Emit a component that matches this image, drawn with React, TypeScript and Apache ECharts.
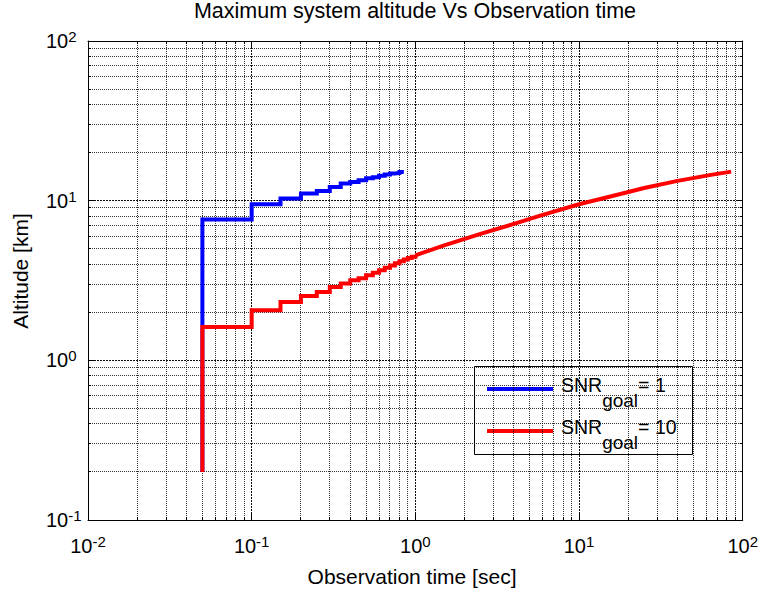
import React, { useEffect, useRef } from "react";
import * as echarts from "echarts";

// Observation-time samples (s) and the resulting maximum altitude (km)
const stepTimesSnr1 = [0.05, 0.1, 0.15, 0.2, 0.25, 0.3, 0.35, 0.4, 0.45, 0.5, 0.55, 0.6, 0.65, 0.7, 0.75, 0.8, 0.85];
const altitudeSnr1 = [7.62, 9.51, 10.3, 11.1, 11.5, 12.2, 12.8, 13.1, 13.4, 13.8, 14.0, 14.3, 14.6, 14.8, 14.9, 15.1, 15.2];

const stepTimesSnr10 = [0.05, 0.1, 0.15, 0.2, 0.25, 0.3, 0.35, 0.4, 0.45, 0.5, 0.55, 0.6, 0.65, 0.7, 0.75, 0.8, 0.85, 0.9, 0.95, 1.0];
const altitudeSnr10 = [1.62, 2.06, 2.32, 2.53, 2.68, 2.88, 3.03, 3.17, 3.27, 3.41, 3.53, 3.67, 3.8, 3.92, 4.05, 4.17, 4.28, 4.38, 4.46, 4.55];
// beyond 1 s the stair steps are finer than a pixel on the log axis
const tailTimesSnr10 = [1.0, 1.5, 2.5, 4, 6, 10, 16, 25, 40, 64, 85];
const tailAltitudeSnr10 = [4.55, 5.25, 6.2, 7.15, 8.15, 9.5, 10.7, 12.0, 13.3, 14.5, 15.2];

// both curves rise from this altitude at the first sample
const startAltitude = 0.2;

// axis ranges and grid decades
const X_MIN = 0.01;
const X_MAX = 100;
const Y_MIN = 0.1;
const Y_MAX = 100;
const xDecades = [0.01, 0.1, 1, 10];
const yDecades = [0.1, 1, 10];
const minorMultipliers = [2, 3, 4, 5, 6, 7, 8, 9];

const legendLabels = ["= 1", "= 10"];

const FONT = '"Liberation Sans", Arial, Helvetica, sans-serif';

const stairs = (times: number[], alts: number[]) => [
  [times[0], startAltitude],
  ...times.map((t, i) => [t, alts[i]]),
];

const gridValues = (decades: number[]) => {
  const out: number[][] = [];
  decades.forEach((d, k) => {
    if (k > 0) out.push([d, 1]);
    minorMultipliers.forEach((m) => out.push([d * m, 0]));
  });
  return out;
};

const crisp = (v: number) => Math.round(v - 0.5) + 0.5;

const tickLabel = (v: number) => {
  const e = Math.round(Math.log10(v));
  return `{b|10}{s|${e}}`;
};

const tickRich = {
  b: { fontSize: 20, fontFamily: FONT, color: "#000", lineHeight: 24, verticalAlign: "middle" },
  s: { fontSize: 15, fontFamily: FONT, color: "#000", lineHeight: 2, verticalAlign: "top" },
};

export default function App() {
  const ref = useRef<HTMLDivElement>(null);

  useEffect(() => {
    if (!ref.current) return;
    const chart = echarts.init(ref.current, undefined, { renderer: "svg" });

    const gridLine = (dir: "x" | "y") => (_params: any, api: any) => {
      const major = api.value(2) === 1;
      const v = api.value(dir === "x" ? 0 : 1);
      const children: any[] = [];
      const minorTick = 3;
      const dotted = { stroke: "#000", lineWidth: 1, lineDash: major ? [2, 1] : [1, 1], opacity: major ? 0.95 : 0.8 };
      if (dir === "x") {
        const a = api.coord([v, Y_MIN]);
        const b = api.coord([v, Y_MAX]);
        const x = crisp(a[0]);
        children.push({ type: "line", shape: { x1: x, y1: a[1], x2: x, y2: b[1] }, style: dotted });
        if (!major) {
          children.push({ type: "line", shape: { x1: x, y1: a[1], x2: x, y2: a[1] - minorTick }, style: { stroke: "#000", lineWidth: 1 } });
          children.push({ type: "line", shape: { x1: x, y1: b[1], x2: x, y2: b[1] + minorTick }, style: { stroke: "#000", lineWidth: 1 } });
        }
      } else {
        const a = api.coord([X_MIN, v]);
        const b = api.coord([X_MAX, v]);
        const y = crisp(a[1]);
        children.push({ type: "line", shape: { x1: a[0], y1: y, x2: b[0], y2: y }, style: dotted });
        if (!major) {
          children.push({ type: "line", shape: { x1: a[0], y1: y, x2: a[0] + minorTick, y2: y }, style: { stroke: "#000", lineWidth: 1 } });
          children.push({ type: "line", shape: { x1: b[0], y1: y, x2: b[0] - minorTick, y2: y }, style: { stroke: "#000", lineWidth: 1 } });
        }
      }
      return { type: "group", children };
    };

    const xGrid = gridValues(xDecades).map(([v, m]) => [v, 1, m]);
    const yGrid = gridValues(yDecades).map(([v, m]) => [1, v, m]);

    const boxAxisLine = { show: true, lineStyle: { color: "#000", width: 1 } };
    const majorTick = { show: true, inside: true, length: 6, lineStyle: { color: "#000", width: 1 } };

    const lineStyleFor = (color: string) => ({ color, width: 4, cap: "butt", join: "miter" });

    const option: any = {
      animation: false,
      backgroundColor: "#fff",
      grid: { left: 88, right: 16, top: 41, bottom: 70 },
      xAxis: [
        {
          type: "log",
          logBase: 10,
          min: X_MIN,
          max: X_MAX,
          axisLine: boxAxisLine,
          axisTick: majorTick,
          splitLine: { show: false },
          axisLabel: { margin: 14, formatter: tickLabel, rich: tickRich, verticalAlign: "top" },
        },
        {
          type: "log",
          logBase: 10,
          min: X_MIN,
          max: X_MAX,
          position: "top",
          axisLine: boxAxisLine,
          axisTick: majorTick,
          splitLine: { show: false },
          axisLabel: { show: false },
        },
      ],
      yAxis: [
        {
          type: "log",
          logBase: 10,
          min: Y_MIN,
          max: Y_MAX,
          axisLine: boxAxisLine,
          axisTick: majorTick,
          splitLine: { show: false },
          axisLabel: { margin: 42, align: "left", formatter: tickLabel, rich: tickRich, verticalAlign: "middle", lineHeight: 24 },
        },
        {
          type: "log",
          logBase: 10,
          min: Y_MIN,
          max: Y_MAX,
          position: "right",
          axisLine: boxAxisLine,
          axisTick: majorTick,
          splitLine: { show: false },
          axisLabel: { show: false },
        },
      ],
      series: [
        { type: "custom", name: "xgrid", silent: true, renderItem: gridLine("x"), data: xGrid, z: 1 },
        { type: "custom", name: "ygrid", silent: true, renderItem: gridLine("y"), data: yGrid, z: 1 },
        {
          type: "line",
          name: "SNR goal = 1",
          step: "end",
          symbol: "none",
          lineStyle: lineStyleFor("#0000ff"),
          data: stairs(stepTimesSnr1, altitudeSnr1),
          z: 3,
        },
        {
          type: "line",
          name: "SNR goal = 10",
          step: "end",
          symbol: "none",
          lineStyle: lineStyleFor("#ff0000"),
          data: stairs(stepTimesSnr10, altitudeSnr10),
          z: 4,
        },
        {
          type: "line",
          name: "SNR goal = 10",
          symbol: "none",
          lineStyle: lineStyleFor("#ff0000"),
          data: tailTimesSnr10.map((t, i) => [t, tailAltitudeSnr10[i]]),
          z: 4,
        },
      ],
      graphic: [
        {
          type: "text",
          x: 415,
          y: 11,
          style: {
            text: "Maximum system altitude Vs Observation time",
            fontSize: 21.5,
            fontFamily: FONT,
            fill: "#000",
            align: "center",
            verticalAlign: "middle",
          },
        },
        {
          type: "text",
          x: 412,
          y: 576,
          style: {
            text: "Observation time [sec]",
            fontSize: 21,
            fontFamily: FONT,
            fill: "#000",
            align: "center",
            verticalAlign: "middle",
          },
        },
        {
          type: "text",
          x: 20,
          y: 271,
          rotation: Math.PI / 2,
          style: {
            text: "Altitude [km]",
            fontSize: 21,
            fontFamily: FONT,
            fill: "#000",
            align: "center",
            verticalAlign: "middle",
          },
        },
        {
          type: "group",
          z: 100,
          children: [
            {
              type: "rect",
              shape: { x: 474.5, y: 366.5, width: 218, height: 88 },
              style: { fill: "#fff", stroke: "#000", lineWidth: 1 },
            },
            {
              type: "line",
              shape: { x1: 487, y1: 389, x2: 553, y2: 389 },
              style: { stroke: "#0000ff", lineWidth: 4 },
            },
            {
              type: "line",
              shape: { x1: 487, y1: 431, x2: 553, y2: 431 },
              style: { stroke: "#ff0000", lineWidth: 4 },
            },
            ...legendLabels.map((lab, i) => ({
              type: "text",
              x: 561,
              y: 375 + i * 42,
              style: {
                text: `{a|SNR}{b|goal}{a|${lab}}`,
                align: "left",
                verticalAlign: "top",
                fill: "#000",
                rich: {
                  a: { fontSize: 19.5, fontFamily: FONT, fill: "#000", lineHeight: 20, verticalAlign: "top" },
                  b: { fontSize: 19, fontFamily: FONT, fill: "#000", lineHeight: 50, verticalAlign: "middle" },
                },
              },
            })),
          ],
        },
      ],
    };

    chart.setOption(option);
    return () => chart.dispose();
  }, []);

  return (
    <div
      ref={ref}
      style={{ position: "fixed", left: 0, top: 0, width: 761, height: 590, background: "#fff" }}
    />
  );
}
